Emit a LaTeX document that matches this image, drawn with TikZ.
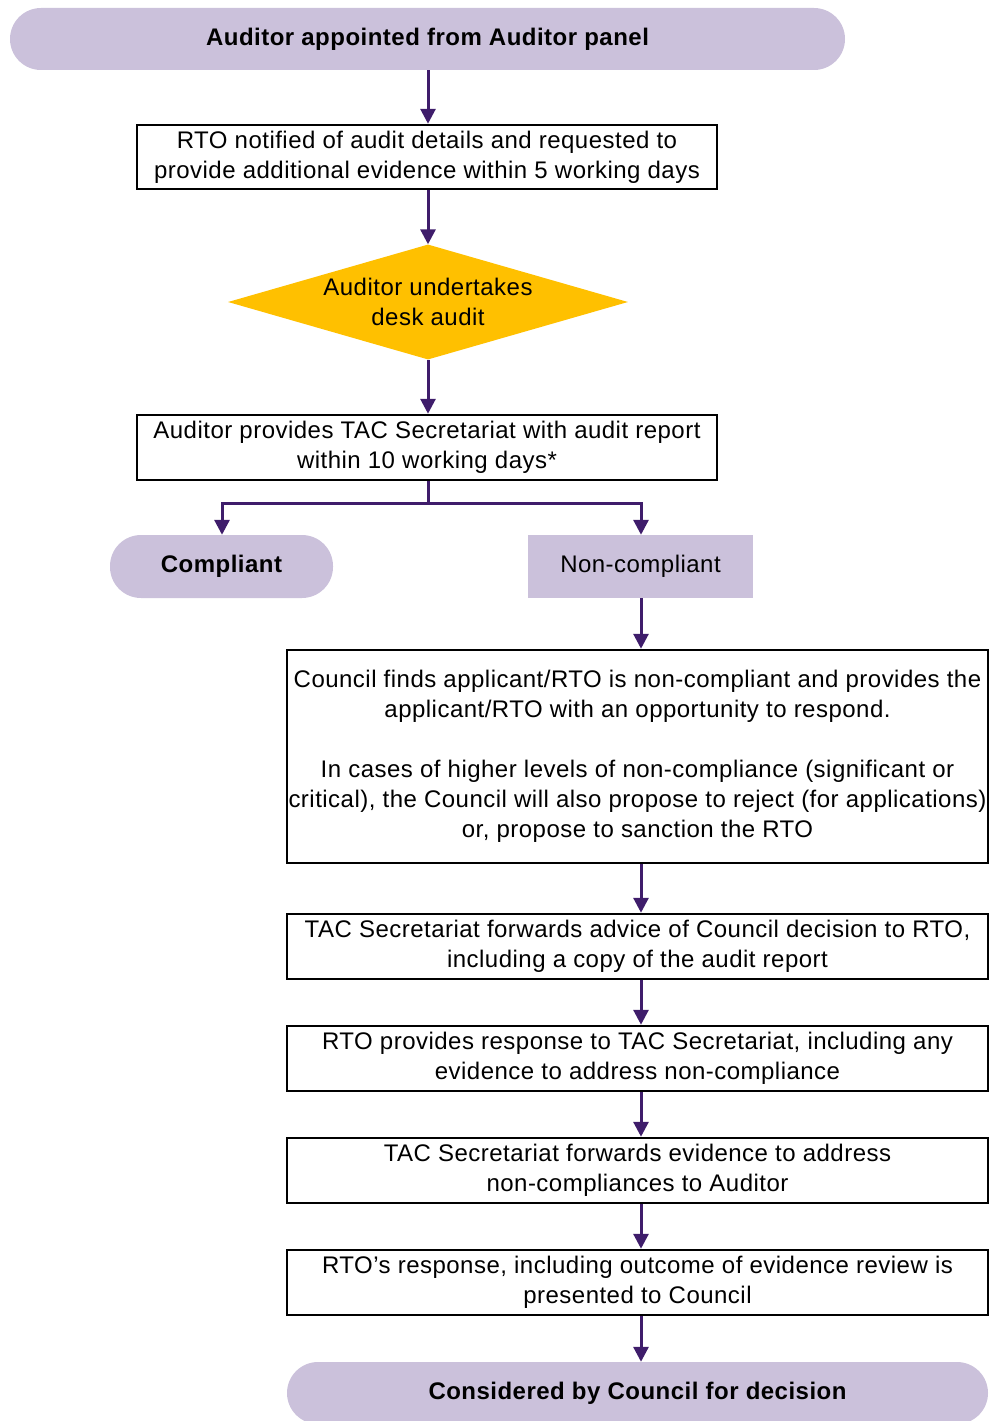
\documentclass[tikz,border=0pt]{standalone}
\usepackage{fontspec}
\setmainfont{Liberation Sans}[LetterSpace=2]
\usetikzlibrary{shapes.geometric,arrows.meta}
\definecolor{lav}{HTML}{CBC1DB}
\definecolor{gold}{HTML}{FFC000}
\definecolor{arrc}{HTML}{3F1D6B}
\tikzset{
  x=1pt,y=-1pt,
  txt/.style={font=\fontsize{24}{30}\selectfont, align=center, inner sep=0pt},
  pill/.style={txt, fill=lav, rounded corners=31pt, font=\fontsize{24}{30}\selectfont\bfseries},
  boxx/.style={txt, draw=black, line width=2.5pt},
  ncbox/.style={txt, fill=lav},
  arr/.style={draw=arrc, line width=3pt, -{Triangle[length=15pt,width=15pt]}},
  ln/.style={draw=arrc, line width=3pt}
}
\begin{document}
\begin{tikzpicture}
\useasboundingbox (0,0) rectangle (990,1421);
\node[pill, minimum width=835pt, minimum height=62pt] (top) at (427.5,39) {Auditor appointed from Auditor panel};
\node[boxx, minimum width=580pt, minimum height=64pt] (b1) at (427,157) {RTO notified of audit details and requested to\\provide additional evidence within 5 working days};
\node[diamond, fill=gold, minimum width=400pt, minimum height=115pt, aspect=3.48, inner sep=0pt] (d) at (428,302) {};
\node[txt] (dt) at (d) {Auditor undertakes\\desk audit};
\node[boxx, minimum width=580pt, minimum height=65pt] (b2) at (427,447.5) {Auditor provides TAC Secretariat with audit report\\within 10 working days*};
\node[pill, minimum width=223pt, minimum height=63pt] (comp) at (221.5,566.5) {Compliant};
\node[ncbox, minimum width=225pt, minimum height=63pt] (nc) at (640.5,566.5) {Non-compliant};
\node[boxx, minimum width=701pt, minimum height=213pt] (big) at (637.5,756.5) {Council finds applicant/RTO is non-compliant and provides the\\applicant/RTO with an opportunity to respond.\\\mbox{}\\In cases of higher levels of non-compliance (significant or\\critical), the Council will also propose to reject (for applications)\\or, propose to sanction the RTO};
\node[boxx, minimum width=701pt, minimum height=65pt] (s1) at (637.5,946.5) {TAC Secretariat forwards advice of Council decision to RTO,\\including a copy of the audit report};
\node[boxx, minimum width=701pt, minimum height=65pt] (s2) at (637.5,1058.5) {RTO provides response to TAC Secretariat, including any\\evidence to address non-compliance};
\node[boxx, minimum width=701pt, minimum height=65pt] (s3) at (637.5,1170.5) {TAC Secretariat forwards evidence to address\\non-compliances to Auditor};
\node[boxx, minimum width=701pt, minimum height=65pt] (s4) at (637.5,1282.5) {RTO's response, including outcome of evidence review is\\presented to Council};
\node[pill, minimum width=701pt, minimum height=62pt] (fin) at (637.5,1393) {Considered by Council for decision};
\coordinate (j) at (428,503);
\coordinate (jl) at (222,503);
\coordinate (jr) at (641,503);
\draw[arr] (top.south -| d) -- (b1.north -| d);
\draw[arr] (b1.south -| d) -- (d.north);
\draw[arr] (d.south) -- (b2.north -| d);
\draw[ln] (b2.south -| j) -- (j);
\draw[arr] (j) -- (jl) -- (comp.north -| jl);
\draw[arr] (j) -- (jr) -- (nc.north -| jr);
\draw[arr] (nc.south -| jr) -- (big.north -| jr);
\draw[arr] (big.south -| jr) -- (s1.north -| jr);
\draw[arr] (s1.south -| jr) -- (s2.north -| jr);
\draw[arr] (s2.south -| jr) -- (s3.north -| jr);
\draw[arr] (s3.south -| jr) -- (s4.north -| jr);
\draw[arr] (s4.south -| jr) -- (fin.north -| jr);
\end{tikzpicture}
\end{document}
